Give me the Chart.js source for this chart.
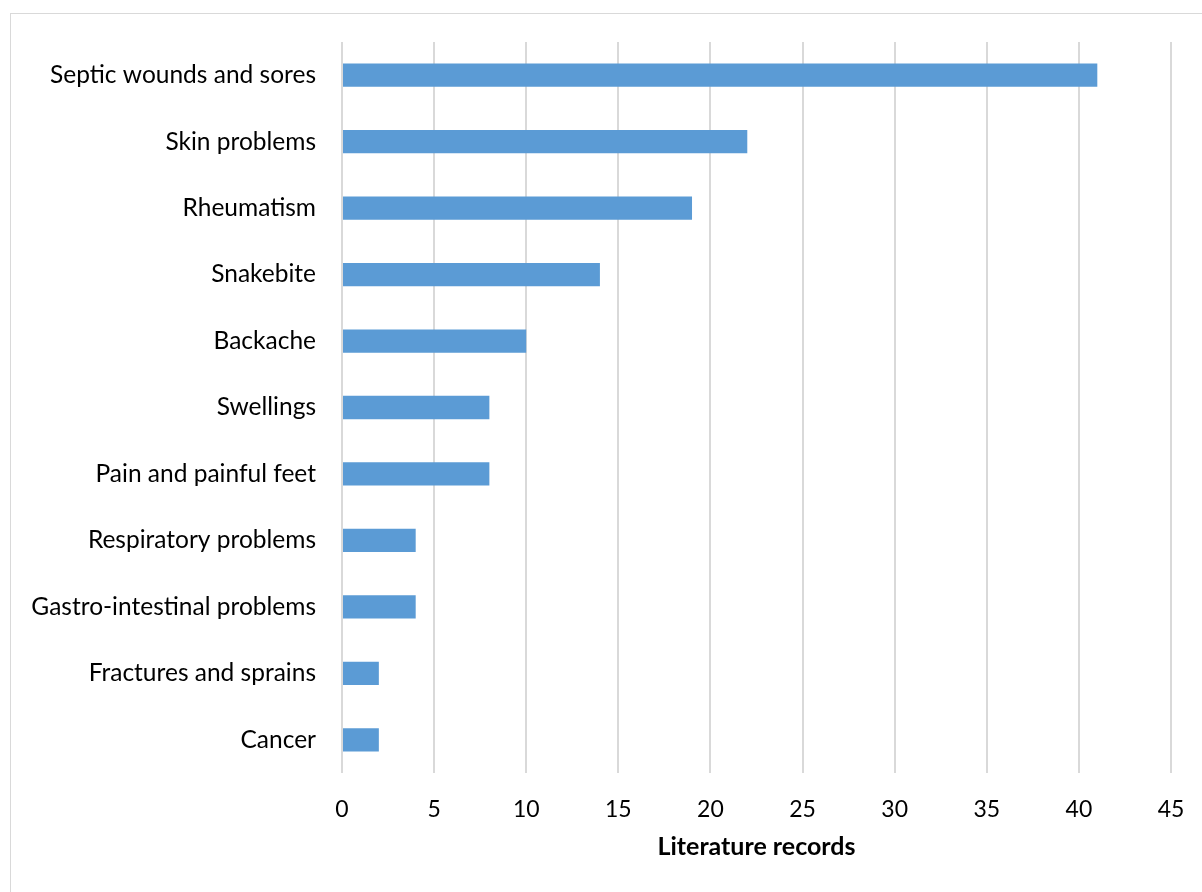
<!DOCTYPE html>
<html>
<head>
<meta charset="utf-8">
<script src="https://cdn.jsdelivr.net/npm/chart.js@4"></script>
<style>
  html, body { margin: 0; padding: 0; background: #fff; }
  #wrap { position: relative; width: 1202px; height: 892px; overflow: hidden; }
  #frame { position: absolute; left: 10px; top: 13px; width: 1200px; height: 900px; border: 1px solid #d9d9d9; box-sizing: border-box; }
  canvas { position: absolute; left: 0; top: 0; }
</style>
</head>
<body>
<div id="wrap">
  <div id="frame"></div>
  <canvas id="c" width="1202" height="892"></canvas>
</div>
<script>
const categories = [
  "Septic wounds and sores",
  "Skin problems",
  "Rheumatism",
  "Snakebite",
  "Backache",
  "Swellings",
  "Pain and painful feet",
  "Respiratory problems",
  "Gastro-intestinal problems",
  "Fractures and sprains",
  "Cancer"
];
const records = [41, 22, 19, 14, 10, 8, 8, 4, 4, 2, 2];
const xTicks = [0, 5, 10, 15, 20, 25, 30, 35, 40, 45];
const xTitle = "Literature records";

const FONT = "Lato, 'Open Sans', sans-serif";

new Chart(document.getElementById('c'), {
  type: 'bar',
  data: {
    labels: categories,
    datasets: [{
      data: records,
      backgroundColor: '#5b9bd5',
      borderWidth: 0,
      categoryPercentage: 1.0,
      barPercentage: 0.35
    }]
  },
  options: {
    indexAxis: 'y',
    responsive: false,
    animation: false,
    events: [],
    layout: { padding: { top: 42, right: 31, bottom: 0, left: 0 } },
    plugins: { legend: { display: false }, tooltip: { enabled: false } },
    scales: {
      x: {
        min: 0, max: 45,
        afterBuildTicks: (s) => { s.ticks = xTicks.map(v => ({ value: v })); },
        afterFit: (s) => { s.height = 119; s.paddingLeft = 0; s.paddingRight = 0; },
        grid: { color: '#d9d9d9', lineWidth: 2, drawTicks: false },
        border: { display: false },
        ticks: { color: '#000', font: { family: FONT, size: 23 }, padding: 23 },
        title: { display: true, text: xTitle, color: '#000', font: { family: FONT, size: 25, weight: 'bold' }, padding: { top: 0, bottom: 30 } }
      },
      y: {
        afterFit: (s) => { s.width = 342; s.paddingTop = 0; s.paddingBottom = 0; },
        grid: { display: false, drawTicks: false },
        border: { display: false },
        ticks: { color: '#000', font: { family: FONT, size: 24.5 }, padding: 26, autoSkip: false }
      }
    }
  }
});
</script>
</body>
</html>
